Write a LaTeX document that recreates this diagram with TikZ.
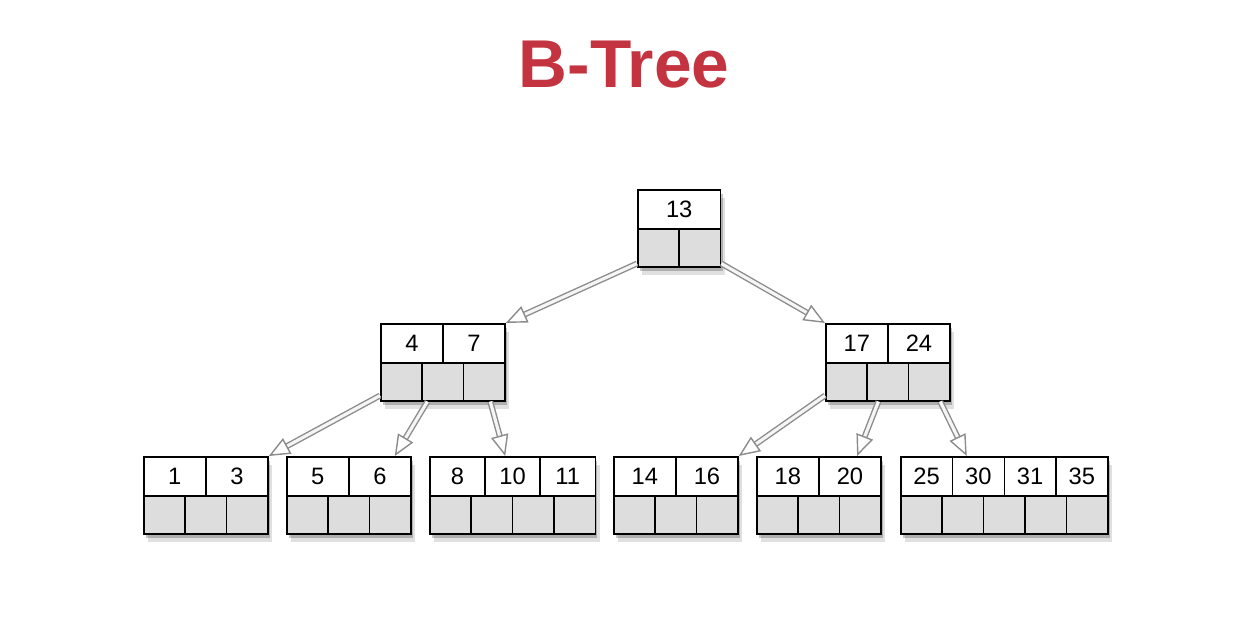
\documentclass[tikz,border=0pt]{standalone}
\usepackage{fontspec}
\setmainfont{Liberation Sans}
\usetikzlibrary{arrows.meta,calc,shadows}
\definecolor{titlered}{RGB}{196,52,64}
\definecolor{cellgray}{RGB}{221,221,221}

\tikzset{
  nodeback/.style={draw, line width=0.9pt, fill=white, anchor=north west, inner sep=0pt,
    minimum height=1.54cm,
    drop shadow={shadow xshift=2.5pt, shadow yshift=-4.5pt, opacity=0.12, fill=black},
    drop shadow={shadow xshift=1.2pt, shadow yshift=-2.5pt, opacity=0.22, fill=black}},
  keycell/.style={draw, line width=0.9pt, fill=white, anchor=north west, inner sep=0pt,
    minimum height=0.78cm, font=\fontsize{13.5}{16}\selectfont},
  ptrcell/.style={draw, line width=0.9pt, fill=cellgray, anchor=north west, inner sep=0pt,
    minimum height=0.76cm, minimum width=0.828cm},
  ptr/.style={draw=gray!90, double=white!92!gray, double distance=1.8pt, line width=0.8pt,
    -{Triangle[open, length=12pt, width=10pt]}}
}

% name, left x, top y, number of keys, keys
\newcommand{\BTNode}[5]{%
  \pgfmathsetmacro{\bwcm}{0.828*(#4+1)}
  \pgfmathsetmacro{\kw}{41.4*(#4+1)/#4}
  \pgfmathsetmacro{\kwcm}{\kw*0.02}
  \pgfmathtruncatemacro{\np}{#4+1}
  \node[nodeback, minimum width=\bwcm cm] (#1) at (#2,#3) {};
  \foreach \kv [count=\i] in {#5} {
    \node[keycell, minimum width=\kwcm cm] (#1-k\i) at ({#2+(\i-1)*\kw},#3) {\kv};
  }
  \foreach \i in {1,...,\np} {
    \node[ptrcell] (#1-p\i) at ({#2+(\i-1)*41.4},#3+39) {};
  }
}

\begin{document}
\begin{tikzpicture}[x=0.02cm,y=-0.02cm]
  \useasboundingbox (0,0) rectangle (1233,621);
  \node[font=\fontsize{38.5}{42}\selectfont\bfseries, text=titlered] (title) at (624,65) {B-Tree};

  \BTNode{n13}{637}{189}{1}{13}
  \BTNode{n47}{380}{323}{2}{4,7}
  \BTNode{n1724}{825}{323}{2}{17,24}

  \BTNode{l13}{143}{456}{2}{1,3}
  \BTNode{l56}{286}{456}{2}{5,6}
  \BTNode{l81011}{429}{456}{3}{8,10,11}
  \BTNode{l1416}{613}{456}{2}{14,16}
  \BTNode{l1820}{756}{456}{2}{18,20}
  \BTNode{l25}{900}{456}{4}{25,30,31,35}

  \draw[ptr] ($(n13-p1.south west)+(0,-4)$) -- (n47.north east);
  \draw[ptr] ($(n13-p2.south east)+(0,-4)$) -- (n1724.north west);

  \draw[ptr] ($(n47-p1.south west)+(0,-6)$) -- (l13.north east);
  \draw[ptr] ($(n47-p2.south west)+(6,0)$) -- ($(l56.north east)+(-17,0)$);
  \draw[ptr] ($(n47-p3.south)+(6,0)$) -- ($(l81011-k2.north west)+(21,0)$);

  \draw[ptr] ($(n1724-p1.south west)+(0,-6)$) -- (l1416.north east);
  \draw[ptr] ($(n1724-p2.south west)+(12,0)$) -- ($(l1820-k2.north west)+(39,0)$);
  \draw[ptr] ($(n1724-p3.south)+(11,0)$) -- ($(l25-k2.north west)+(15,0)$);
\end{tikzpicture}
\end{document}
